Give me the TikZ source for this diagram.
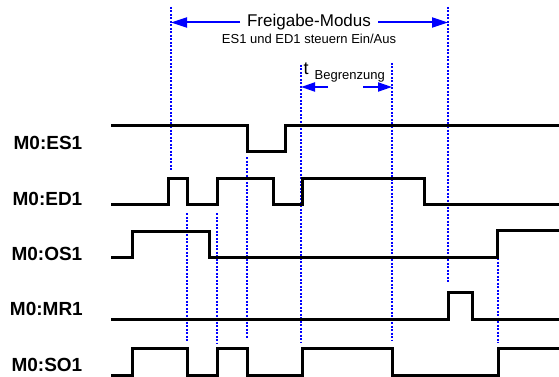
\documentclass[tikz,border=0pt]{standalone}
\usepackage{fontspec}
\setmainfont{Liberation Sans}
\usetikzlibrary{arrows.meta}
\definecolor{dotblue}{RGB}{0,0,255}
\tikzset{
  sig/.style={line width=3pt, line join=miter, black},
  guide/.style={dotblue, line width=2pt, dash pattern=on 2pt off 1.5pt},
  arr/.style={dotblue, line width=2pt, -{Triangle[length=16pt,width=10pt]}},
  sarr/.style={dotblue, line width=2pt, -{Triangle[length=14pt,width=9pt]}},
  lab/.style={anchor=base east, inner sep=0pt, font=\fontsize{19}{19}\selectfont\bfseries},
}
\begin{document}
\begin{tikzpicture}[x=1pt,y=-1pt]
\useasboundingbox (0,0) rectangle (559,377);
% labels
\node[lab] (lES) at (82.5,149.5) {M0:ES1};
\node[lab] (lED) at (82.5,205.5) {M0:ED1};
\node[lab] (lOS) at (82.5,260.5) {M0:OS1};
\node[lab] (lMR) at (83,315.5) {M0:MR1};
\node[lab] (lSO) at (82.5,371.5) {M0:SO1};
% guide lines
\draw[guide] (171,7) coordinate (g1t) -- (171,170) coordinate (g1b);
\draw[guide] (187,213) coordinate (g2t) -- (187,342) coordinate (g2b);
\draw[guide] (217,213) coordinate (g3t) -- (217,343) coordinate (g3b);
\draw[guide] (247,157) coordinate (g4t) -- (247,339) coordinate (g4b);
\draw[guide] (301,65) coordinate (g5t) -- (301,343) coordinate (g5b);
\draw[guide] (392,63) coordinate (g6t) -- (392,340) coordinate (g6b);
\draw[guide] (448,7) coordinate (g7t) -- (448,283) coordinate (g7b);
\draw[guide] (498,258) coordinate (g8t) -- (498,343) coordinate (g8b);
% waveforms
\draw[sig] (111,126) -- (247,126) -- (247,151) -- (285,151) -- (285,126) -- (559,126);
\draw[sig] (111,204) -- (168,204) -- (168,178) -- (187,178) -- (187,204) -- (217,204) -- (217,178) -- (273,178) -- (273,204) -- (302,204) -- (302,178) -- (424,178) -- (424,204) -- (559,204);
\draw[sig] (111,257) -- (132,257) -- (132,231.5) -- (209,231.5) -- (209,257) -- (497,257) -- (497,230.5) -- (559,230.5);
\draw[sig] (111,319) -- (448,319) -- (448,292) -- (472,292) -- (472,319) -- (559,319);
\draw[sig] (111,375) -- (132,375) -- (132,348) -- (187,348) -- (187,375) -- (217,375) -- (217,348) -- (247,348) -- (247,375) -- (302,375) -- (302,348) -- (392,348) -- (392,375) -- (498,375) -- (498,348) -- (559,348);
% Freigabe-Modus
\node[anchor=base, inner sep=0pt, font=\fontsize{17}{17}\selectfont] (title) at (309,27) {Freigabe-Modus};
\node[anchor=base, inner sep=0pt, font=\fontsize{13}{13}\selectfont] (sub) at (309,43.3) {ES1 und ED1 steuern Ein/Aus};
\coordinate (aL) at (240,22.5);
\coordinate (aR) at (378,22.5);
\draw[arr] (aL) -- (g1t |- aL);
\draw[arr] (aR) -- (g7t |- aR);
% t Begrenzung
\node[anchor=base west, inner sep=0pt] (tb) at (303.5,75) {\fontsize{18}{18}\selectfont t\hspace{6pt}\raisebox{-5pt}{\fontsize{13}{13}\selectfont Begrenzung}};
\coordinate (bL) at (328,87);
\coordinate (bR) at (363,87);
\draw[sarr] (bL) -- (g5t |- bL);
\draw[sarr] (bR) -- (g6t |- bR);
\end{tikzpicture}
\end{document}
